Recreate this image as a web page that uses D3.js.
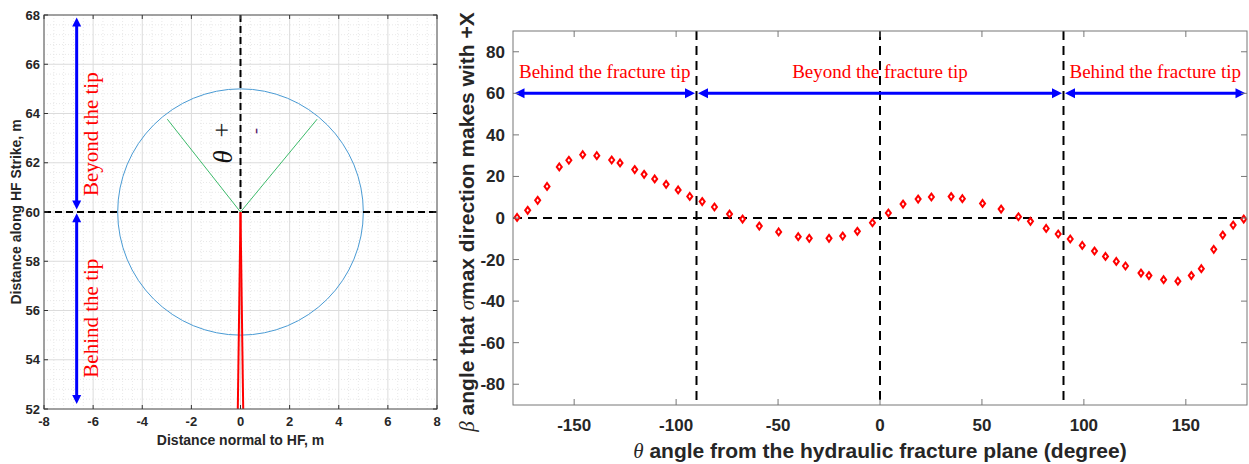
<!DOCTYPE html>
<html>
<head>
<meta charset="utf-8">
<script src="https://cdn.jsdelivr.net/npm/d3@7"></script>
<style>
  body { margin: 0; background: #fff; }
  svg { display: block; }
</style>
</head>
<body>
<div id="chart"></div>
<script>
// ---- left panel: geometry sketch ----
const leftXTicks = [-8, -6, -4, -2, 0, 2, 4, 6, 8];
const leftYTicks = [52, 54, 56, 58, 60, 62, 64, 66, 68];
const tipPoint = [0, 60];
const circleRadius = 5;
const greenRayEnds = [[-2.98, 63.77], [3.12, 63.77]];
const redLineEnds = [[-0.11, 52], [0.11, 52]];
const leftArrows = [
  { x: -6.67, y1: 60.1, y2: 67.9, labelY: 63.16, label: "Beyond the tip" },
  { x: -6.67, y1: 52.2, y2: 59.95, labelY: 55.69, label: "Behind the tip" },
];

// ---- right panel: beta vs theta ----
const theta = [-178, -172.8, -167.9, -163.3, -157.3, -152.6, -145.8, -138.9, -131.6, -127.5,
  -120.3, -115.7, -110.5, -104.9, -99.0, -93.3, -87.2, -81.2, -73.8, -67.4,
  -59.2, -49.7, -40.1, -34.7, -25.0, -18.3, -11.1, -3.7, 4.1, 11.3,
  18.7, 25.2, 34.9, 40.4, 50.3, 59.4, 67.9, 73.8, 81.5, 87.4,
  93.3, 99.2, 105.2, 110.6, 115.9, 120.4, 128.0, 131.9, 139.1, 146.1,
  152.7, 157.6, 163.7, 168.1, 173.2, 178.4];
const beta = [0.3, 3.7, 8.5, 15.2, 24.6, 27.8, 30.5, 30.0, 27.9, 26.5,
  23.3, 21.0, 18.8, 16.2, 13.5, 10.4, 7.9, 5.3, 1.9, -0.5,
  -3.9, -6.7, -9.0, -9.8, -9.8, -8.7, -6.4, -2.3, 2.4, 6.7,
  9.1, 10.1, 10.3, 9.3, 7.0, 4.3, 0.6, -1.6, -5.0, -7.7,
  -10.1, -13.2, -15.9, -18.5, -20.9, -23.1, -26.5, -27.7, -29.7, -30.4,
  -27.7, -24.4, -15.1, -8.2, -3.4, -0.5];
const rightXTicks = [-150, -100, -50, 0, 50, 100, 150];
const rightYTicks = [-80, -60, -40, -20, 0, 20, 40, 60, 80];
const zoneBounds = [-180, -90, 90, 180];
const zoneLabels = ["Behind the fracture tip", "Beyond the fracture tip", "Behind the fracture tip"];
const zoneArrowY = 60;

const W = 1249, H = 464;
const SANS = "'Liberation Sans', Arial, sans-serif";
const SERIF = "'Liberation Serif', 'Times New Roman', serif";
const AXIS_COL = "#262626";

const svg = d3.select('#chart').append('svg')
  .attr('width', W)
  .attr('height', H);

const defs = svg.append('defs');

// ================= LEFT PANEL =================
const lx = d3.scaleLinear().domain([-8, 8]).range([44, 437]);
const ly = d3.scaleLinear().domain([52, 68]).range([409, 15]);

defs.append('clipPath').attr('id', 'clipL')
  .append('rect')
  .attr('x', lx(-8)).attr('y', ly(68))
  .attr('width', lx(8) - lx(-8)).attr('height', ly(52) - ly(68));

const gL = svg.append('g');

// minor grid (dotted)
const minorX = d3.range(-8, 8.001, 0.4).filter(v => Math.abs(v / 2 - Math.round(v / 2)) > 0.01);
const minorY = d3.range(52, 68.001, 0.4).filter(v => Math.abs(v / 2 - Math.round(v / 2)) > 0.01);
gL.append('g').selectAll('line').data(minorX).join('line')
  .attr('x1', d => lx(d)).attr('x2', d => lx(d))
  .attr('y1', ly(52)).attr('y2', ly(68))
  .attr('stroke', '#e2e2e2').attr('stroke-width', 0.8).attr('stroke-dasharray', '1,2');
gL.append('g').selectAll('line').data(minorY).join('line')
  .attr('y1', d => ly(d)).attr('y2', d => ly(d))
  .attr('x1', lx(-8)).attr('x2', lx(8))
  .attr('stroke', '#e2e2e2').attr('stroke-width', 0.8).attr('stroke-dasharray', '1,2');

// major grid
gL.append('g').selectAll('line').data(leftXTicks).join('line')
  .attr('x1', d => lx(d)).attr('x2', d => lx(d))
  .attr('y1', ly(52)).attr('y2', ly(68))
  .attr('stroke', '#dcdcdc').attr('stroke-width', 1);
gL.append('g').selectAll('line').data(leftYTicks).join('line')
  .attr('y1', d => ly(d)).attr('y2', d => ly(d))
  .attr('x1', lx(-8)).attr('x2', lx(8))
  .attr('stroke', '#dcdcdc').attr('stroke-width', 1);

const plotL = gL.append('g').attr('clip-path', 'url(#clipL)');

// circle
plotL.append('ellipse')
  .attr('cx', lx(tipPoint[0])).attr('cy', ly(tipPoint[1]))
  .attr('rx', lx(circleRadius) - lx(0)).attr('ry', ly(60 - circleRadius) - ly(60))
  .attr('fill', 'none').attr('stroke', '#4a9bd4').attr('stroke-width', 1);

// dashed cross-hair
plotL.append('line')
  .attr('x1', lx(-8)).attr('x2', lx(8)).attr('y1', ly(60)).attr('y2', ly(60))
  .attr('stroke', '#000').attr('stroke-width', 2).attr('stroke-dasharray', '7,4');
plotL.append('line')
  .attr('x1', lx(0)).attr('x2', lx(0)).attr('y1', ly(68)).attr('y2', ly(60))
  .attr('stroke', '#000').attr('stroke-width', 2).attr('stroke-dasharray', '7,4');

// green rays
plotL.append('g').selectAll('line').data(greenRayEnds).join('line')
  .attr('x1', lx(tipPoint[0])).attr('y1', ly(tipPoint[1]))
  .attr('x2', d => lx(d[0])).attr('y2', d => ly(d[1]))
  .attr('stroke', '#3cba6a').attr('stroke-width', 1);

// red fracture
plotL.append('g').selectAll('line').data(redLineEnds).join('line')
  .attr('x1', lx(tipPoint[0])).attr('y1', ly(tipPoint[1]))
  .attr('x2', d => lx(d[0])).attr('y2', d => ly(d[1]))
  .attr('stroke', '#ff0000').attr('stroke-width', 2);

// +, -, theta
gL.append('text')
  .attr('transform', `translate(${lx(-0.81)},${ly(63.32)}) rotate(-90)`)
  .attr('text-anchor', 'middle').attr('dy', '0.35em')
  .style('font-family', SERIF).style('font-size', '26px').attr('fill', '#222')
  .text('+');
gL.append('text')
  .attr('transform', `translate(${lx(0.56)},${ly(63.29)}) rotate(-90)`)
  .attr('text-anchor', 'middle').attr('dy', '0.35em')
  .style('font-family', SERIF).style('font-size', '18px').attr('fill', '#5a2370')
  .text('-');
gL.append('text')
  .attr('transform', `translate(${lx(-0.72)},${ly(62.24)}) rotate(-90)`)
  .attr('text-anchor', 'middle').attr('dy', '0.35em')
  .style('font-family', SERIF).style('font-style', 'italic').style('font-size', '27px').attr('fill', '#111')
  .text('θ');

// blue double arrows + labels
function vArrow(g, x, yTop, yBot, head, half, w) {
  g.append('line').attr('x1', x).attr('x2', x).attr('y1', yTop + head - 1).attr('y2', yBot - head + 1)
    .attr('stroke', '#0000ff').attr('stroke-width', w);
  g.append('path').attr('d', `M${x},${yTop}L${x - half},${yTop + head}L${x + half},${yTop + head}Z`).attr('fill', '#0000ff');
  g.append('path').attr('d', `M${x},${yBot}L${x - half},${yBot - head}L${x + half},${yBot - head}Z`).attr('fill', '#0000ff');
}
leftArrows.forEach(a => {
  vArrow(gL, lx(a.x), ly(a.y2), ly(a.y1), 9, 4.5, 3);
  gL.append('text')
    .attr('transform', `translate(${lx(a.x) + 14},${ly(a.labelY)}) rotate(-90)`)
    .attr('text-anchor', 'middle').attr('dy', '0.35em')
    .style('font-family', SERIF).style('font-size', '21px').attr('fill', '#ff0000')
    .text(a.label);
});

// box + ticks
gL.append('rect')
  .attr('x', lx(-8)).attr('y', ly(68))
  .attr('width', lx(8) - lx(-8)).attr('height', ly(52) - ly(68))
  .attr('fill', 'none').attr('stroke', '#555').attr('stroke-width', 1);
const tickL = 4;
gL.append('g').selectAll('path').data(leftXTicks).join('path')
  .attr('d', d => `M${lx(d)},${ly(52)}v${-tickL}M${lx(d)},${ly(68)}v${tickL}`)
  .attr('stroke', '#333').attr('stroke-width', 1);
gL.append('g').selectAll('path').data(leftYTicks).join('path')
  .attr('d', d => `M${lx(-8)},${ly(d)}h${tickL}M${lx(8)},${ly(d)}h${-tickL}`)
  .attr('stroke', '#333').attr('stroke-width', 1);

gL.append('g').selectAll('text').data(leftXTicks).join('text')
  .attr('x', d => lx(d)).attr('y', 426)
  .attr('text-anchor', 'middle')
  .style('font-family', SANS).style('font-size', '13px').style('font-weight', 'bold').attr('fill', AXIS_COL)
  .text(d => d);
gL.append('g').selectAll('text').data(leftYTicks).join('text')
  .attr('x', 40).attr('y', d => ly(d)).attr('dy', '0.35em')
  .attr('text-anchor', 'end')
  .style('font-family', SANS).style('font-size', '13px').style('font-weight', 'bold').attr('fill', AXIS_COL)
  .text(d => d);
gL.append('text')
  .attr('x', (lx(-8) + lx(8)) / 2).attr('y', 445)
  .attr('text-anchor', 'middle')
  .style('font-family', SANS).style('font-size', '14px').style('font-weight', 'bold').attr('fill', AXIS_COL)
  .text('Distance normal to HF, m');
gL.append('text')
  .attr('transform', `translate(21,${(ly(52) + ly(68)) / 2}) rotate(-90)`)
  .attr('text-anchor', 'middle')
  .style('font-family', SANS).style('font-size', '14px').style('font-weight', 'bold').attr('fill', AXIS_COL)
  .text('Distance along HF Strike, m');

// ================= RIGHT PANEL =================
const rx = d3.scaleLinear().domain([-180, 180]).range([513, 1247]);
const ry = d3.scaleLinear().domain([-90, 90]).range([405, 31]);

const gR = svg.append('g');

// dashed reference lines
gR.append('line')
  .attr('x1', rx(-180)).attr('x2', rx(180)).attr('y1', ry(0)).attr('y2', ry(0))
  .attr('stroke', '#000').attr('stroke-width', 2).attr('stroke-dasharray', '9,6');
gR.append('g').selectAll('line').data(zoneBounds.slice(1, -1).concat([0])).join('line')
  .attr('x1', d => rx(d)).attr('x2', d => rx(d)).attr('y1', ry(90)).attr('y2', ry(-90))
  .attr('stroke', '#000').attr('stroke-width', 2).attr('stroke-dasharray', '9,6');

// zone arrows
function hArrow(g, x1, x2, y, head, half, w) {
  g.append('line').attr('x1', x1 + head - 1).attr('x2', x2 - head + 1).attr('y1', y).attr('y2', y)
    .attr('stroke', '#0000ff').attr('stroke-width', w);
  g.append('path').attr('d', `M${x1},${y}L${x1 + head},${y - half}L${x1 + head},${y + half}Z`).attr('fill', '#0000ff');
  g.append('path').attr('d', `M${x2},${y}L${x2 - head},${y - half}L${x2 - head},${y + half}Z`).attr('fill', '#0000ff');
}
zoneLabels.forEach((lab, i) => {
  const a = zoneBounds[i], b = zoneBounds[i + 1];
  hArrow(gR, rx(a) + 1.5, rx(b) - 1.5, ry(zoneArrowY), 10, 5, 3);
  gR.append('text')
    .attr('x', (rx(a) + rx(b)) / 2).attr('y', ry(zoneArrowY) - 15)
    .attr('text-anchor', 'middle')
    .style('font-family', SERIF).style('font-size', '19px').attr('fill', '#ff0000')
    .text(lab);
});

// diamond markers
const pts = theta.map((t, i) => ({ t, b: beta[i] }));
gR.append('g').selectAll('path').data(pts).join('path')
  .attr('transform', d => `translate(${rx(d.t)},${ry(d.b)})`)
  .attr('d', 'M0,-3.4L2.5,0L0,3.4L-2.5,0Z')
  .attr('fill', '#fff').attr('stroke', '#ff0000').attr('stroke-width', 2);

// box + ticks
gR.append('rect')
  .attr('x', rx(-180)).attr('y', ry(90))
  .attr('width', rx(180) - rx(-180)).attr('height', ry(-90) - ry(90))
  .attr('fill', 'none').attr('stroke', '#777').attr('stroke-width', 1);
const tickR = 6;
gR.append('g').selectAll('path').data(rightXTicks).join('path')
  .attr('d', d => `M${rx(d)},${ry(-90)}v${-tickR}M${rx(d)},${ry(90)}v${tickR}`)
  .attr('stroke', '#777').attr('stroke-width', 1);
gR.append('g').selectAll('path').data(rightYTicks).join('path')
  .attr('d', d => `M${rx(-180)},${ry(d)}h${tickR}M${rx(180)},${ry(d)}h${-tickR}`)
  .attr('stroke', '#777').attr('stroke-width', 1);

gR.append('g').selectAll('text').data(rightXTicks).join('text')
  .attr('x', d => rx(d)).attr('y', 431)
  .attr('text-anchor', 'middle')
  .style('font-family', SANS).style('font-size', '17px').style('font-weight', 'bold').attr('fill', AXIS_COL)
  .text(d => d);
gR.append('g').selectAll('text').data(rightYTicks).join('text')
  .attr('x', 505).attr('y', d => ry(d)).attr('dy', '0.35em')
  .attr('text-anchor', 'end')
  .style('font-family', SANS).style('font-size', '17px').style('font-weight', 'bold').attr('fill', AXIS_COL)
  .text(d => d);

const xl = gR.append('text')
  .attr('x', (rx(-180) + rx(180)) / 2).attr('y', 458)
  .attr('text-anchor', 'middle')
  .style('font-family', SANS).style('font-size', '21px').style('font-weight', 'bold').attr('fill', AXIS_COL);
xl.append('tspan').style('font-family', SERIF).style('font-style', 'italic').style('font-weight', 'normal').text('θ');
xl.append('tspan').text(' angle from the hydraulic fracture plane (degree)');

const yl = gR.append('text')
  .attr('transform', `translate(474,222) rotate(-90)`)
  .attr('text-anchor', 'middle')
  .style('font-family', SANS).style('font-size', '21px').style('font-weight', 'bold').attr('fill', AXIS_COL);
yl.append('tspan').style('font-family', SERIF).style('font-style', 'italic').style('font-weight', 'normal').text('β');
yl.append('tspan').text(' angle that ');
yl.append('tspan').style('font-family', SERIF).style('font-style', 'italic').style('font-weight', 'normal').text('σ');
yl.append('tspan').text('max direction makes with +X');
</script>
</body>
</html>
